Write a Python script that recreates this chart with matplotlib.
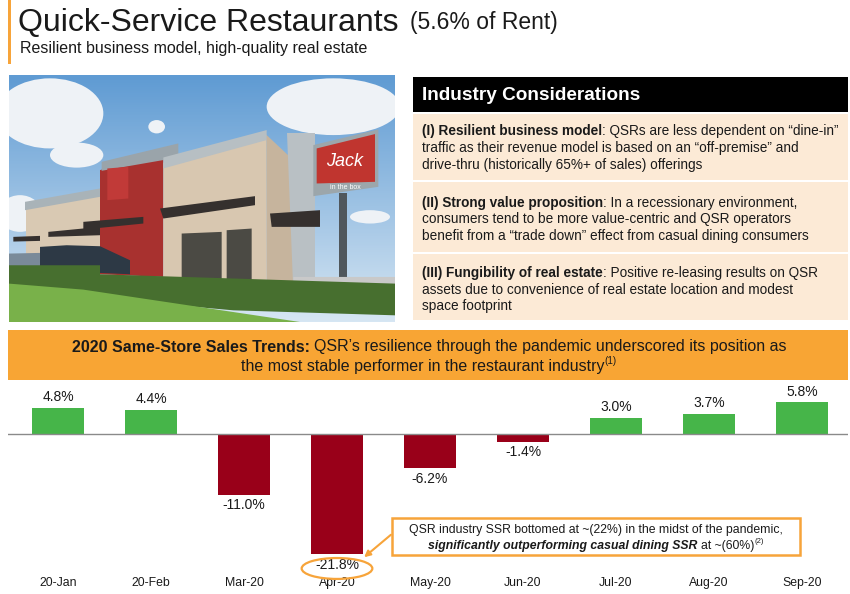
import matplotlib
matplotlib.use("Agg")
import matplotlib.pyplot as plt
from matplotlib.patches import Rectangle, Polygon, Ellipse, FancyArrowPatch
import numpy as np

plt.rcParams['font.family'] = ['Liberation Sans', 'DejaVu Sans']

# ---- data ----
months = ["20-Jan", "20-Feb", "Mar-20", "Apr-20", "May-20", "Jun-20", "Jul-20", "Aug-20", "Sep-20"]
ssr = [4.8, 4.4, -11.0, -21.8, -6.2, -1.4, 3.0, 3.7, 5.8]
value_labels = ["4.8%", "4.4%", "-11.0%", "-21.8%", "-6.2%", "-1.4%", "3.0%", "3.7%", "5.8%"]

title = "Quick-Service Restaurants"
title_note = "(5.6% of Rent)"
subtitle = "Resilient business model, high-quality real estate"

considerations = [
    [[("(I) Resilient business model", "bold"), (": QSRs are less dependent on “dine-in”", "normal")],
     [("traffic as their revenue model is based on an “off-premise” and", "normal")],
     [("drive-thru (historically 65%+ of sales) offerings", "normal")]],
    [[("(II) Strong value proposition", "bold"), (": In a recessionary environment,", "normal")],
     [("consumers tend to be more value-centric and QSR operators", "normal")],
     [("benefit from a “trade down” effect from casual dining consumers", "normal")]],
    [[("(III) Fungibility of real estate", "bold"), (": Positive re-leasing results on QSR", "normal")],
     [("assets due to convenience of real estate location and modest", "normal")],
     [("space footprint", "normal")]],
]

W, H = 850, 594
ORANGE = "#f7a43a"
GREEN = "#46b549"
RED = "#990019"
INK = "#1a1a1a"

fig = plt.figure(figsize=(W / 100, H / 100), dpi=100)
renderer = fig.canvas.get_renderer()


def fx(x):
    return x / W


def fy(y):
    return 1 - y / H


def rich_line(x, y, parts, size, ha="left", color=INK):
    # parts: (text, weight[, style[, "sup"]]) placed one after the other
    made = []
    for p in parts:
        s, w = p[0], p[1]
        st = p[2] if len(p) > 2 else "normal"
        sup = len(p) > 3
        gap = 0.0
        if s.startswith(" "):
            s = s[1:]
            gap = 0.278 * size * 100 / 72
        t = fig.text(0, 0, s, fontsize=size * 0.62 if sup else size, fontweight=w,
                     fontstyle=st, color=color, va="center", ha="left")
        made.append((t, sup, gap, t.get_window_extent(renderer).width))
    total = sum(m[2] + m[3] for m in made)
    cur = x - total / 2 if ha == "center" else x
    for t, sup, gap, wd in made:
        cur += gap
        yy = y - size * 0.5 if sup else y
        t.set_position((fx(cur), fy(yy)))
        cur += wd


def box(x0, y0, x1, y1, **kw):
    fig.add_artist(Rectangle((fx(x0), fy(y1)), (x1 - x0) / W, (y1 - y0) / H,
                             transform=fig.transFigure, **kw))


# ---- header ----
box(8, 0, 11, 64, color=ORANGE, lw=0)
rich_line(18, 23, [(title, "normal")], 23)
rich_line(410, 23, [(title_note, "normal")], 16.5)
rich_line(20, 48, [(subtitle, "normal")], 11.5)

# ---- photo stand-in (storefront sketch) ----
pax = fig.add_axes([fx(9), fy(322), 386 / W, 247 / H])
pax.set_xlim(27, 1185)
pax.set_ylim(755, 15)
pax.axis("off")
sky = np.linspace(0, 1, 100).reshape(-1, 1)
pax.imshow(sky, cmap=matplotlib.colors.LinearSegmentedColormap.from_list("sky", ["#5f9bd3", "#d6e6f3"]),
           extent=(27, 1185, 755, 15), aspect="auto", zorder=0)
for cx, cy, cw, ch in [(150, 130, 320, 210), (230, 255, 160, 75), (1000, 110, 400, 170),
                       (60, 430, 130, 110), (470, 170, 50, 40), (1110, 440, 120, 40)]:
    pax.add_patch(Ellipse((cx, cy), cw, ch, color="#eef2f6", lw=0, zorder=1))
shapes = [
    ([(78, 405), (300, 365), (300, 615), (78, 590)], "#d9c9b3"),
    ([(75, 395), (300, 355), (300, 380), (75, 420)], "#a9b3b8"),
    ([(300, 300), (490, 245), (490, 620), (300, 612)], "#a8312f"),
    ([(305, 275), (535, 220), (535, 262), (305, 302)], "#9aa4aa"),
    ([(490, 278), (800, 195), (800, 640), (490, 622)], "#d8c7b0"),
    ([(490, 262), (800, 180), (800, 210), (490, 295)], "#b7bfc3"),
    ([(800, 195), (880, 270), (880, 640), (800, 640)], "#c6b49d"),
    ([(860, 190), (945, 190), (945, 640), (880, 640)], "#b9c0c4"),
    ([(480, 415), (765, 378), (765, 405), (490, 445)], "#35302e"),
    ([(250, 455), (430, 440), (430, 460), (250, 478)], "#35302e"),
    ([(145, 485), (300, 470), (300, 495), (145, 500)], "#35302e"),
    ([(40, 500), (120, 497), (120, 512), (40, 514)], "#35302e"),
    ([(810, 430), (960, 420), (960, 470), (815, 470)], "#35302e"),
    ([(545, 490), (665, 485), (665, 635), (545, 635)], "#4b4a44"),
    ([(680, 480), (755, 475), (755, 635), (680, 635)], "#4b4a44"),
    ([(322, 295), (385, 290), (385, 385), (322, 390)], "#c13a38"),
    ([(1018, 370), (1040, 370), (1040, 620), (1018, 620)], "#50575c"),
    ([(940, 225), (1135, 178), (1135, 350), (940, 378)], "#9ca6ab"),
    ([(950, 235), (1125, 192), (1125, 335), (950, 340)], "#c0352f"),
    ([(120, 530), (200, 525), (300, 528), (390, 570), (390, 612), (120, 600)], "#2d3945"),
    ([(27, 550), (120, 548), (120, 590), (27, 590)], "#7a8a99"),
    ([(880, 620), (1185, 620), (1185, 652), (880, 642)], "#c9c9c9"),
    ([(27, 585), (300, 585), (300, 612), (1185, 640), (1185, 735), (700, 720), (27, 660)], "#476f2f"),
    ([(27, 640), (250, 658), (900, 755), (27, 755)], "#79b14a"),
]
for pts, c in shapes:
    pax.add_patch(Polygon(pts, closed=True, color=c, lw=0, zorder=2))
pax.text(1035, 275, "Jack", color="white", fontsize=13, fontstyle="italic", ha="center", va="center", zorder=3)
pax.text(1035, 352, "in the box", color="white", fontsize=5, ha="center", va="center", zorder=3)

# ---- industry considerations ----
box(413, 77, 848, 112, color="black", lw=0)
rich_line(422, 95, [("Industry Considerations", "bold")], 13.7, color="white")
box_spans = [(114, 180), (182, 252), (254, 320)]
line_ys = [[131, 148, 165], [203, 219, 236], [273, 290, 306]]
for (b0, b1), lines, ys in zip(box_spans, considerations, line_ys):
    box(413, b0, 848, b1, color="#fcead6", lw=0)
    for parts, y in zip(lines, ys):
        rich_line(422, y, parts, 9.8)

# ---- orange banner ----
box(8, 330, 848, 380, color="#f8a534", lw=0)
rich_line(429, 347, [("2020 Same-Store Sales Trends:", "bold"),
                     (" QSR’s resilience through the pandemic underscored its position as", "normal")],
          11.5, ha="center")
rich_line(429, 367, [("the most stable performer in the restaurant industry", "normal"),
                     ("(1)", "normal", "normal", "sup")], 11.5, ha="center")

# ---- bar chart ----
ax = fig.add_axes([fx(8), 0, 840 / W, 209 / H])
x = np.arange(len(months))
ax.bar(x, ssr, width=0.56, color=[GREEN if v >= 0 else RED for v in ssr], zorder=2)
ax.axhline(0, color="#8a8a8a", lw=1, zorder=3)
ax.set_xlim(-0.538, 8.495)
ax.set_ylim(-29.09, 8.91)
ax.axis("off")
for xi, v, lab in zip(x, ssr, value_labels):
    ax.text(xi, v + 1.9 if v >= 0 else v - 1.95, lab, ha="center", va="center",
            fontsize=10, color=INK)
    ax.text(xi, -27.1, months[xi], ha="center", va="center", fontsize=8.8, color=INK)
ax.add_patch(Ellipse((3, -24.45), 0.76, 3.8, fill=False, edgecolor=ORANGE, lw=1.6, zorder=4))

# ---- callout ----
box(392, 518, 800, 555, facecolor="white", edgecolor=ORANGE, lw=1.8)
rich_line(596, 530, [("QSR industry SSR bottomed at ~(22%) in the midst of the pandemic,", "normal")],
          8.8, ha="center")
rich_line(596, 546, [("significantly outperforming casual dining SSR", "bold", "italic"),
                     (" at ~(60%)", "normal"), ("(2)", "normal", "normal", "sup")], 8.8, ha="center")
fig.add_artist(FancyArrowPatch((fx(393), fy(533)), (fx(362), fy(559)), transform=fig.transFigure,
                               arrowstyle="-|>", mutation_scale=9, color=ORANGE, lw=1.5))

fig.savefig("out.png", dpi=100)
